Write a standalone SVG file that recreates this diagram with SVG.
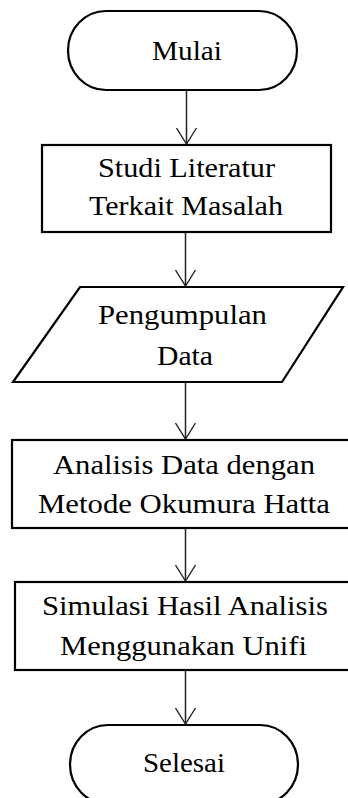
<svg xmlns="http://www.w3.org/2000/svg" width="348" height="798" viewBox="0 0 348 798">
<defs>
<marker id="arr" viewBox="0 0 22 18" refX="11" refY="17" markerWidth="22" markerHeight="18" markerUnits="userSpaceOnUse" orient="0">
<path d="M1,1 L11,17 L21,1" fill="none" stroke="#222" stroke-width="1.4"/>
</marker>
<style>
.shape{fill:#fff;stroke:#000;stroke-width:2.2}
.conn{fill:none;stroke:#222;stroke-width:1.5;marker-end:url(#arr)}
text{font-family:"Liberation Serif","Times New Roman",serif;font-size:27px;fill:#000;text-anchor:middle}
</style>
</defs>
<rect width="348" height="798" fill="#fff"/>
<g id="connectors">
<line class="conn" x1="186.5" y1="90" x2="186.5" y2="144"/>
<line class="conn" x1="185.5" y1="232" x2="185.5" y2="286"/>
<line class="conn" x1="185.5" y1="382" x2="185.5" y2="439"/>
<line class="conn" x1="185.5" y1="528" x2="185.5" y2="581"/>
<line class="conn" x1="185.5" y1="670" x2="185.5" y2="724"/>
</g>
<g id="start">
<rect class="shape" x="68" y="11" width="229" height="79" rx="38" ry="39.5"/>
<text x="187" y="60" textLength="70" lengthAdjust="spacingAndGlyphs">Mulai</text>
</g>
<g id="studi">
<rect class="shape" x="42" y="145" width="289" height="87"/>
<text x="186.5" y="177" textLength="177" lengthAdjust="spacingAndGlyphs">Studi Literatur</text>
<text x="186" y="215" textLength="194" lengthAdjust="spacingAndGlyphs">Terkait Masalah</text>
</g>
<g id="pengumpulan">
<polygon class="shape" points="80,287 343,287 282,382 13,382"/>
<text x="182.5" y="324" textLength="169" lengthAdjust="spacingAndGlyphs">Pengumpulan</text>
<text x="185" y="365" textLength="56" lengthAdjust="spacingAndGlyphs">Data</text>
</g>
<g id="analisis">
<rect class="shape" x="12" y="440" width="340" height="88"/>
<text x="184" y="474" textLength="262" lengthAdjust="spacingAndGlyphs">Analisis Data dengan</text>
<text x="184" y="513" textLength="292" lengthAdjust="spacingAndGlyphs">Metode Okumura Hatta</text>
</g>
<g id="simulasi">
<rect class="shape" x="15" y="582" width="337" height="88"/>
<text x="185" y="615" textLength="286" lengthAdjust="spacingAndGlyphs">Simulasi Hasil Analisis</text>
<text x="183.5" y="655" textLength="247" lengthAdjust="spacingAndGlyphs">Menggunakan Unifi</text>
</g>
<g id="end">
<rect class="shape" x="70" y="725" width="228" height="79" rx="38" ry="39.5"/>
<text x="184" y="772" textLength="82" lengthAdjust="spacingAndGlyphs">Selesai</text>
</g>
</svg>
